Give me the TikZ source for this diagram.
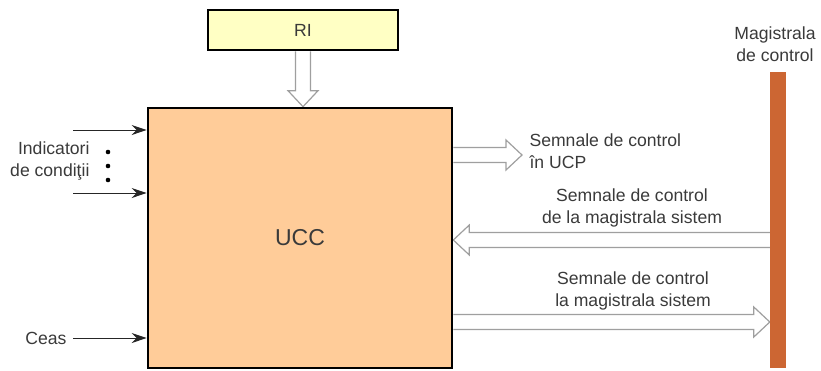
\documentclass[tikz,border=0pt]{standalone}
\usepackage{fontspec}
\setmainfont{Liberation Sans}
\usetikzlibrary{calc,positioning,arrows.meta,backgrounds}
\definecolor{riyellow}{HTML}{FFFFC4}
\definecolor{uccpeach}{HTML}{FFCC99}
\definecolor{busorange}{HTML}{CC6633}
\definecolor{txtgray}{HTML}{3A3A3A}

% wide hollow arrow from #1 to #2
\newcommand{\hollowarrow}[2]{%
  \coordinate (hb) at ($(#2)!16pt!(#1)$);
  \draw[hollow] ($(#1)!7.5pt!90:(#2)$) -- ($(hb)!7.5pt!90:(#2)$) -- ($(hb)!15pt!90:(#2)$)
    -- (#2) -- ($(hb)!15pt!-90:(#2)$) -- ($(hb)!7.5pt!-90:(#2)$) -- ($(#1)!7.5pt!-90:(#2)$);
}

\begin{document}
\begin{tikzpicture}[x=1pt, y=-1pt,
    every node/.style={font=\fontsize{17.6}{22}\selectfont, text=txtgray},
    unitbox/.style={draw=black, line width=2.6pt, inner sep=0pt},
    hollow/.style={draw=gray!75, fill=white, line width=1.2pt, line join=miter},
    sig/.style={draw=black!85, line width=1pt, -{Stealth[length=15pt,width=10pt]}}]
    \useasboundingbox (0,0) rectangle (821,370);

    % Units
    \node[unitbox, fill=riyellow, minimum width=190pt, minimum height=40pt] (ri) at (303,30) {RI};
    \node[unitbox, fill=uccpeach, minimum width=304pt, minimum height=260pt,
          font=\fontsize{23}{27}\selectfont] (ucc) at (300,238) {UCC};

    % Control bus
    \node[fill=busorange, minimum width=16pt, minimum height=296pt, inner sep=0pt] (bus) at (778,220) {};
    \node[align=center] (buslabel) at (775,44) {Magistrala\\de control};

    % Wide arrows, behind the units
    \coordinate (ucp) at (522,155);
    \begin{scope}[on background layer]
        \hollowarrow{ri.south}{ri.south |- ucc.north}
        \hollowarrow{ucc.east |- ucp}{ucp}
        \hollowarrow{bus.west |- 0,240}{ucc.east |- 0,240}
        \hollowarrow{ucc.east |- 0,322}{bus.west |- 0,322}
    \end{scope}

    \node[align=left, anchor=west] (ucplabel) at (526,151) {Semnale de control\\în UCP};
    \node[align=center] (inlabel) at (632,208) {Semnale de control\\de la magistrala sistem};
    \node[align=center] (outlabel) at (633,291) {Semnale de control\\la magistrala sistem};

    % Condition flags and clock
    \coordinate (in1) at (73,130);
    \coordinate (in2) at (73,193);
    \draw[sig] (in1) -- (ucc.west |- in1);
    \draw[sig] (in2) -- (ucc.west |- in2);
    \foreach \y in {152,166,180}
        \fill[black] (108,\y) circle (2.3pt);
    \node[align=right, anchor=east] (flags) at (93,161) {Indicatori\\de condiţii};

    \node[anchor=east] (ceas) at (70,338) {Ceas};
    \coordinate (clk) at (73,338);
    \draw[sig] (clk) -- (ucc.west |- clk);
\end{tikzpicture}
\end{document}
